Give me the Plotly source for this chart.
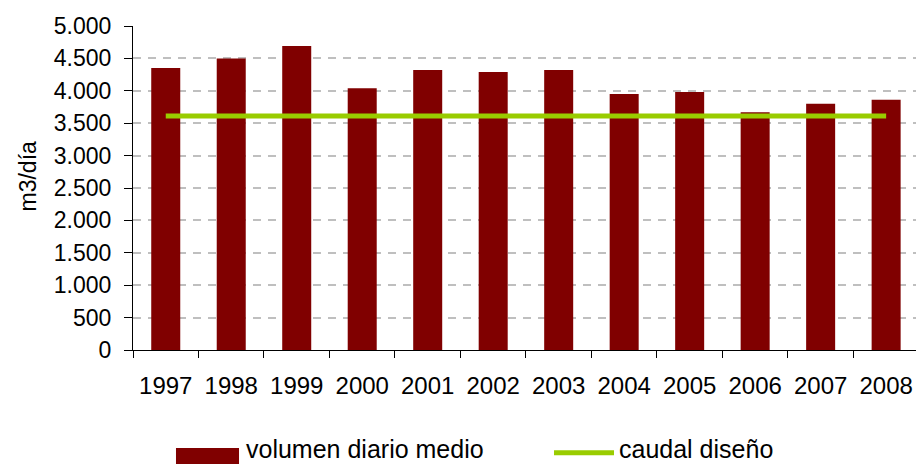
import plotly.graph_objects as go

years = ["1997", "1998", "1999", "2000", "2001", "2002", "2003", "2004", "2005", "2006", "2007", "2008"]
volumen = [4350, 4500, 4690, 4040, 4320, 4290, 4320, 3950, 3980, 3670, 3800, 3860]
caudal = [3610] * len(years)
y_ticks = [0, 500, 1000, 1500, 2000, 2500, 3000, 3500, 4000, 4500, 5000]
series_names = ["volumen diario medio", "caudal diseño"]

FONT = "Liberation Sans, Arial, sans-serif"
BAR_COLOR = "#800000"
LINE_COLOR = "#99CC00"

fig = go.Figure()
fig.add_trace(go.Bar(x=years, y=volumen, name=series_names[0], showlegend=False,
                     marker=dict(color=BAR_COLOR, line=dict(width=0))))
fig.add_trace(go.Scatter(x=years, y=caudal, name=series_names[1], mode="lines", showlegend=False,
                         line=dict(color=LINE_COLOR, width=5)))

# custom legend (wide swatches as in the original)
fig.add_shape(type="rect", xref="paper", yref="paper", x0=0.0549, x1=0.1354, y0=-0.36, y1=-0.3025,
              fillcolor=BAR_COLOR, line=dict(width=0))
fig.add_annotation(xref="paper", yref="paper", x=0.1418, y=-0.3056, xanchor="left", yanchor="middle",
                   text=series_names[0], showarrow=False, font=dict(size=25))
fig.add_shape(type="line", xref="paper", yref="paper", x0=0.5377, x1=0.6143, y0=-0.317, y1=-0.317,
              line=dict(color=LINE_COLOR, width=5))
fig.add_annotation(xref="paper", yref="paper", x=0.6181, y=-0.3056, xanchor="left", yanchor="middle",
                   text=series_names[1], showarrow=False, font=dict(size=25))

# y axis title
fig.add_annotation(xref="paper", yref="paper", x=-0.1335, y=0.537, xanchor="center", yanchor="middle",
                   text="m3/día", textangle=-90, showarrow=False, font=dict(size=23))

fig.update_layout(
    width=916, height=464,
    margin=dict(l=133, r=0, t=26, b=114),
    paper_bgcolor="white", plot_bgcolor="white",
    font=dict(family=FONT, size=23, color="#000000"),
    separators=",.",
    bargap=0.557,
    showlegend=False,
    xaxis=dict(type="category", range=[-0.5, 11.456], showline=True, linecolor="#000000", linewidth=1,
               ticks="outside", tickson="boundaries", ticklen=7, tickcolor="#000000",
               showgrid=False, tickfont=dict(size=24), fixedrange=True, automargin=False,
               ticklabelstandoff=14),
    yaxis=dict(range=[0, 5000], tickvals=y_ticks, separatethousands=True,
               showline=True, linecolor="#000000", linewidth=1,
               ticks="outside", ticklen=8, tickcolor="#000000",
               showgrid=True, gridcolor="#BFBFBF", gridwidth=1.5, griddash="8px,7px",
               zeroline=False, tickfont=dict(size=23), automargin=False, fixedrange=True,
               ticklabelstandoff=8),
)

fig.write_html("out.html", config={"displayModeBar": False},
               post_script="document.body.style.margin='0';document.body.style.overflow='hidden';")
